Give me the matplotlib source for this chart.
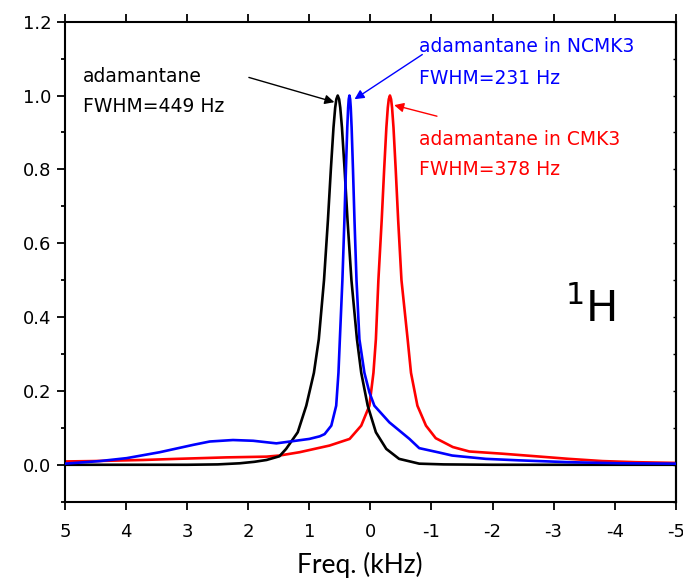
import matplotlib
matplotlib.use("Agg")
import matplotlib.pyplot as plt
from matplotlib.ticker import MultipleLocator, FormatStrFormatter

plt.rcParams["axes.unicode_minus"] = False
plt.rcParams["font.family"] = ["DejaVu Sans"]

# 1H NMR spectra: frequency offset (kHz) and normalised intensity
black_freq = [5.0, 4.0, 3.0, 2.5, 2.14, 1.90, 1.70, 1.49, 1.38, 1.19, 1.05, 0.925,
              0.845, 0.7595, 0.6957, 0.6475, 0.6045, 0.5766, 0.5576, 0.535, 0.5124,
              0.4934, 0.4655, 0.4225, 0.3743, 0.3105, 0.22, 0.15, 0.044, -0.09,
              -0.26, -0.47, -0.80, -1.2, -2.0, -5.0]
black_int = [0.000, 0.000, 0.000, 0.001, 0.004, 0.008, 0.013, 0.023, 0.043, 0.088, 0.160, 0.249,
             0.340, 0.500, 0.662, 0.800, 0.913, 0.967, 0.990, 1.000, 0.990,
             0.967, 0.913, 0.800, 0.662, 0.500, 0.340, 0.249, 0.160, 0.088,
             0.043, 0.016, 0.003, 0.001, 0.000, 0.000]

blue_freq = [5.0, 4.43, 3.99, 3.45, 2.90, 2.63, 2.25, 1.92, 1.54, 1.27, 1.0, 0.83,
             0.75, 0.64, 0.56, 0.523, 0.50, 0.4585, 0.4256, 0.4008, 0.3787, 0.3644,
             0.3546, 0.343, 0.3314, 0.3216, 0.3073, 0.2852, 0.2604, 0.2275, 0.18,
             0.098, 0.016, -0.065, -0.31, -0.64, -0.80, -1.13, -1.34, -1.89, -2.43,
             -3.25, -4.07, -5.0]
blue_int = [0.003, 0.010, 0.018, 0.034, 0.054, 0.063, 0.067, 0.065, 0.058, 0.064, 0.070, 0.077,
            0.083, 0.106, 0.160, 0.249, 0.340, 0.500, 0.662, 0.800, 0.913, 0.967,
            0.990, 1.000, 0.990, 0.967, 0.913, 0.800, 0.662, 0.500, 0.340,
            0.249, 0.196, 0.160, 0.115, 0.070, 0.045, 0.033, 0.025, 0.016, 0.012,
            0.007, 0.004, 0.003]

red_freq = [5.0, 4.54, 3.72, 3.17, 2.36, 1.70, 1.49, 1.16, 0.67, 0.34, 0.15, 0.016,
            -0.05, -0.09, -0.131, -0.185, -0.2255, -0.2616, -0.285, -0.301, -0.32,
            -0.339, -0.355, -0.3784, -0.4145, -0.455, -0.509, -0.61, -0.665, -0.77,
            -0.91, -1.07, -1.35, -1.62, -2.16, -2.71, -3.25, -3.80, -4.34, -5.0]
red_int = [0.009, 0.010, 0.013, 0.016, 0.020, 0.022, 0.025, 0.034, 0.052, 0.070, 0.106, 0.160,
           0.249, 0.340, 0.500, 0.662, 0.800, 0.913, 0.967, 0.990, 1.000,
           0.990, 0.967, 0.913, 0.800, 0.662, 0.500, 0.340, 0.249, 0.160,
           0.106, 0.072, 0.048, 0.036, 0.030, 0.023, 0.016, 0.010, 0.007, 0.005]

fig = plt.figure(figsize=(6.83, 5.81), dpi=100)
ax = fig.add_axes([0.0953, 0.1365, 0.8940, 0.8262])

ax.plot(black_freq, black_int, color="black", lw=1.9, zorder=3)
ax.plot(red_freq, red_int, color="#ff0000", lw=1.9, zorder=2)
ax.plot(blue_freq, blue_int, color="#0000ff", lw=1.9, zorder=4)

ax.set_xlim(5, -5)
ax.set_ylim(-0.1, 1.2)
ax.xaxis.set_major_locator(MultipleLocator(1))
ax.yaxis.set_major_locator(MultipleLocator(0.2))
ax.yaxis.set_minor_locator(MultipleLocator(0.1))
ax.yaxis.set_major_formatter(FormatStrFormatter("%.1f"))

for s in ax.spines.values():
    s.set_linewidth(1.5)

ax.tick_params(axis="x", which="major", direction="out", length=6, width=1.3,
               top=True, labelsize=13, pad=9)
ax.tick_params(axis="y", which="major", direction="out", length=6, width=1.3,
               right=False, labelsize=13, pad=4)
ax.tick_params(axis="y", which="minor", direction="out", length=3, width=1.3, right=False)

# short inward ticks on the right spine
ry = ax.secondary_yaxis("right")
ry.yaxis.set_major_locator(MultipleLocator(0.1))
ry.tick_params(direction="in", length=2.5, width=1.0, labelright=False)
ry.spines["right"].set_linewidth(1.5)

ax.set_xlabel("Freq. (kHz)", fontsize=19, family=["Lato", "DejaVu Sans"])
ax.xaxis.set_label_coords(0.482, -0.105)

txt = dict(fontsize=13.5, va="center", ha="left")
ax.text(4.71, 1.052, "adamantane", color="black", **txt)
ax.text(4.71, 0.971, "FWHM=449 Hz", color="black", **txt)
ax.text(-0.80, 1.133, "adamantane in NCMK3", color="#0000ff", **txt)
ax.text(-0.80, 1.047, "FWHM=231 Hz", color="#0000ff", **txt)
ax.text(-0.80, 0.882, "adamantane in CMK3", color="#ff0000", **txt)
ax.text(-0.80, 0.799, "FWHM=378 Hz", color="#ff0000", **txt)

arrow = dict(arrowstyle="-|>", lw=1.0, mutation_scale=14, shrinkA=0, shrinkB=0)
ax.annotate("", xy=(0.59, 0.982), xytext=(1.99, 1.049),
            arrowprops=dict(color="black", **arrow))
ax.annotate("", xy=(0.26, 0.990), xytext=(-0.85, 1.111),
            arrowprops=dict(color="#0000ff", **arrow))
ax.annotate("", xy=(-0.39, 0.974), xytext=(-1.09, 0.944),
            arrowprops=dict(color="#ff0000", **arrow))

ax.text(-3.19, 0.42, r"$^{1}$H", fontsize=31, va="center", ha="left", color="black")

fig.savefig("out.png", dpi=100)
